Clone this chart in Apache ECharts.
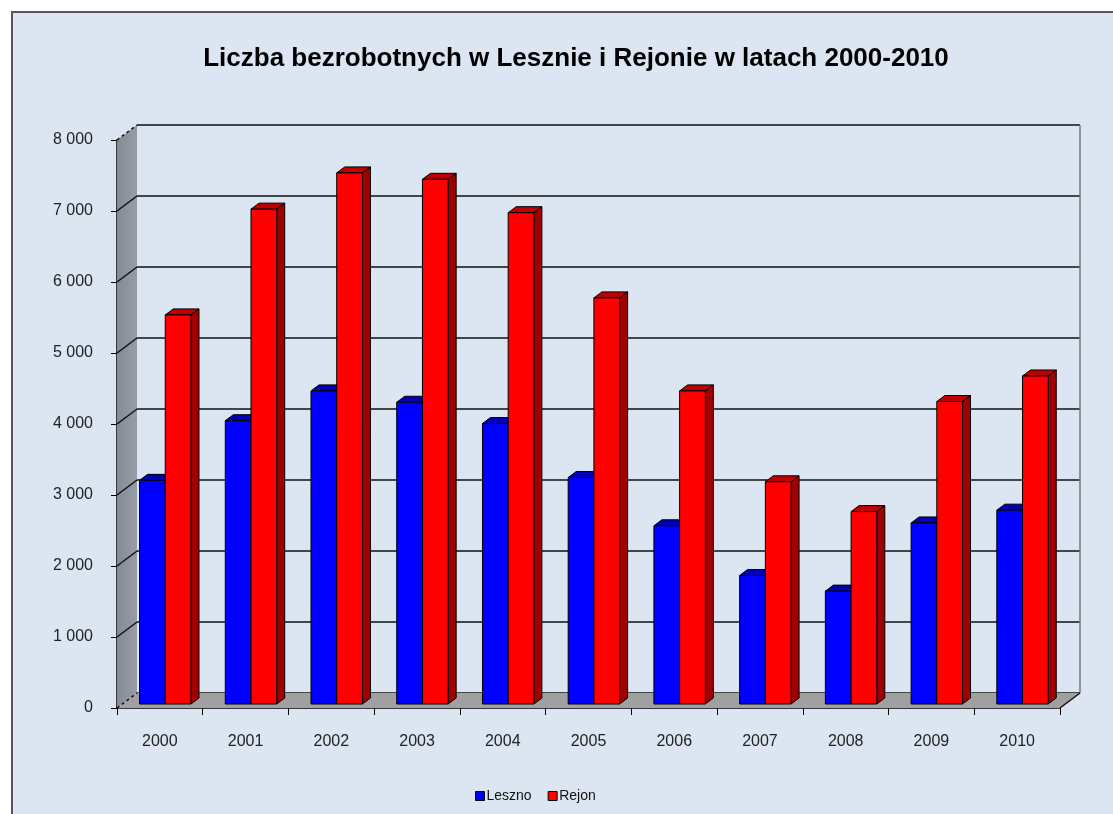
<!DOCTYPE html>
<html>
<head>
<meta charset="utf-8">
<script src="https://cdn.jsdelivr.net/npm/echarts@6/dist/echarts.min.js"></script>
<style>
  html, body { margin: 0; padding: 0; background: #fff; }
  #chart { width: 1113px; height: 814px; }
</style>
</head>
<body>
<div id="chart"></div>
<script>
// dane
var years = ['2000', '2001', '2002', '2003', '2004', '2005', '2006', '2007', '2008', '2009', '2010'];
var leszno = [3150, 3990, 4410, 4250, 3950, 3190, 2510, 1810, 1590, 2550, 2730];
var rejon = [5480, 6970, 7480, 7390, 6920, 5720, 4410, 3130, 2710, 4260, 4620];
var yTicks = [0, 1000, 2000, 3000, 4000, 5000, 6000, 7000, 8000];

var chartDom = document.getElementById('chart');
var myChart = echarts.init(chartDom);

var DEPTH = [20, -15];      // glebokosc "sciany" 3D
var BAR_OFF = [5.4, -4];    // przesuniecie slupkow w glab
var BAR_DEPTH = [8, -6];    // grubosc slupka
var BAR_FRAC = 0.3;

function fmt(v) {
    return String(v).replace(/\B(?=(\d{3})+(?!\d))/g, ' ');
}

// sciana boczna, podloga i linie siatki na scianie bocznej
function renderFrame(params, api) {
    var cs = params.coordSys;
    var x0 = cs.x, x1 = cs.x + cs.width;
    var yb = api.coord([0, 0])[1], yt = api.coord([0, 8000])[1];
    var dx = DEPTH[0], dy = DEPTH[1];
    var children = [];
    children.push({
        type: 'polygon',
        shape: { points: [[x0, yb], [x0 + dx, yb + dy], [x0 + dx, yt + dy], [x0, yt]] },
        style: {
            fill: new echarts.graphic.LinearGradient(0, 0, 1, 0, [
                { offset: 0, color: '#858b94' },
                { offset: 1, color: '#979da6' }
            ])
        }
    });
    children.push({
        type: 'polygon',
        shape: { points: [[x0, yb], [x0 + dx, yb + dy], [x1 + dx, yb + dy], [x1, yb]] },
        style: { fill: '#a0a0a0' }
    });
    yTicks.forEach(function (t) {
        var y = api.coord([0, t])[1];
        children.push({
            type: 'line',
            shape: { x1: x0, y1: y, x2: x0 + dx, y2: y + dy },
            style: { stroke: '#111', lineWidth: 1.5, lineDash: (t === 0 || t === 8000) ? [3, 3] : null }
        });
    });
    children.push({
        type: 'line',
        shape: { x1: x1, y1: yb, x2: x1 + dx, y2: yb + dy },
        style: { stroke: '#111', lineWidth: 1.5 }
    });
    return { type: 'group', children: children };
}

function barRenderer(left, cFront, cTop, cSide) {
    return function (params, api) {
        var ci = api.value(0), v = api.value(1);
        var top = api.coord([ci, v]);
        var base = api.coord([ci, 0]);
        var w = api.size([1, 0])[0] * BAR_FRAC;
        var x0 = (left ? top[0] - w : top[0]) + BAR_OFF[0];
        var x1 = x0 + w;
        var yT = top[1] + BAR_OFF[1], yB = base[1] + BAR_OFF[1];
        var dx = BAR_DEPTH[0], dy = BAR_DEPTH[1];
        var st = { stroke: '#000', lineWidth: 1 };
        return {
            type: 'group',
            children: [
                { type: 'polygon', shape: { points: [[x1, yB], [x1 + dx, yB + dy], [x1 + dx, yT + dy], [x1, yT]] },
                  style: Object.assign({ fill: cSide }, st) },
                { type: 'polygon', shape: { points: [[x0, yT], [x1, yT], [x1 + dx, yT + dy], [x0 + dx, yT + dy]] },
                  style: Object.assign({ fill: cTop }, st) },
                { type: 'rect', shape: { x: x0, y: yT, width: w, height: yB - yT },
                  style: Object.assign({ fill: cFront }, st) }
            ]
        };
    };
}

var option = {
    backgroundColor: '#ffffff',
    animation: false,
    graphic: [{
        type: 'rect',
        left: 11, top: 11,
        shape: { width: 1120, height: 820 },
        style: { fill: '#dce6f2', stroke: '#555', lineWidth: 2 },
        z: -10
    }],
    title: {
        text: 'Liczba bezrobotnych w Lesznie i Rejonie w latach 2000-2010',
        left: 571, top: 41, textAlign: 'center',
        textStyle: { fontFamily: 'Liberation Sans', fontWeight: 'bold', fontSize: 26, color: '#000' }
    },
    legend: {
        bottom: 6, left: 470,
        icon: 'rect', itemWidth: 9, itemHeight: 9, itemGap: 16,
        data: [
            { name: 'Leszno', itemStyle: { color: '#0000ff', borderColor: '#000', borderWidth: 1 } },
            { name: 'Rejon', itemStyle: { color: '#ff0000', borderColor: '#000', borderWidth: 1 } }
        ],
        textStyle: { fontFamily: 'Liberation Sans', fontSize: 14, color: '#111', padding: [0, 0, 0, -3] }
    },
    grid: [
        { left: 117, right: 53, top: 140, bottom: 106 },
        { left: 137, right: 33, top: 125, bottom: 121 }
    ],
    xAxis: [
        {
            type: 'category', data: years, gridIndex: 0,
            axisLine: { lineStyle: { color: '#000', width: 1.5 } },
            axisTick: { show: true, length: 7, lineStyle: { color: '#000' } },
            axisLabel: { margin: 26, fontFamily: 'Liberation Sans', fontSize: 16, color: '#222' }
        },
        {
            type: 'category', data: years, gridIndex: 1,
            axisLine: { show: false }, axisTick: { show: false }, axisLabel: { show: false }
        }
    ],
    yAxis: [
        {
            type: 'value', min: 0, max: 8000, interval: 1000, gridIndex: 0,
            axisLine: { show: true, lineStyle: { color: '#000', width: 1.5 } },
            axisTick: { show: true, length: 6, lineStyle: { color: '#000' } },
            splitLine: { show: false },
            axisLabel: { margin: 24, fontFamily: 'Liberation Sans', fontSize: 16, color: '#222', formatter: fmt }
        },
        {
            type: 'value', min: 0, max: 8000, interval: 1000, gridIndex: 1,
            axisLine: { show: false }, axisTick: { show: false }, axisLabel: { show: false },
            splitLine: { show: true, lineStyle: { color: '#111', width: 1.5 } }
        }
    ],
    series: [
        {
            type: 'custom', name: 'frame', xAxisIndex: 0, yAxisIndex: 0,
            data: [[0, 0]], renderItem: renderFrame, z: 1, silent: true
        },
        {
            type: 'custom', name: 'wall', xAxisIndex: 1, yAxisIndex: 1,
            data: [[0, 0]],
            renderItem: function (params, api) {
                var cs = params.coordSys;
                return { type: 'line', shape: { x1: cs.x + cs.width, y1: cs.y, x2: cs.x + cs.width, y2: cs.y + cs.height },
                         style: { stroke: '#777', lineWidth: 1.5 } };
            },
            z: 0, silent: true
        },
        {
            type: 'custom', name: 'Leszno', xAxisIndex: 0, yAxisIndex: 0,
            itemStyle: { color: '#0000ff' },
            data: leszno.map(function (v, i) { return [i, v]; }),
            encode: { x: 0, y: 1 },
            renderItem: barRenderer(true, '#0000ff', '#0000b4', '#000080'), z: 3
        },
        {
            type: 'custom', name: 'Rejon', xAxisIndex: 0, yAxisIndex: 0,
            itemStyle: { color: '#ff0000' },
            data: rejon.map(function (v, i) { return [i, v]; }),
            encode: { x: 0, y: 1 },
            renderItem: barRenderer(false, '#ff0000', '#c00000', '#a00000'), z: 4
        }
    ]
};

option && myChart.setOption(option);
</script>
</body>
</html>
